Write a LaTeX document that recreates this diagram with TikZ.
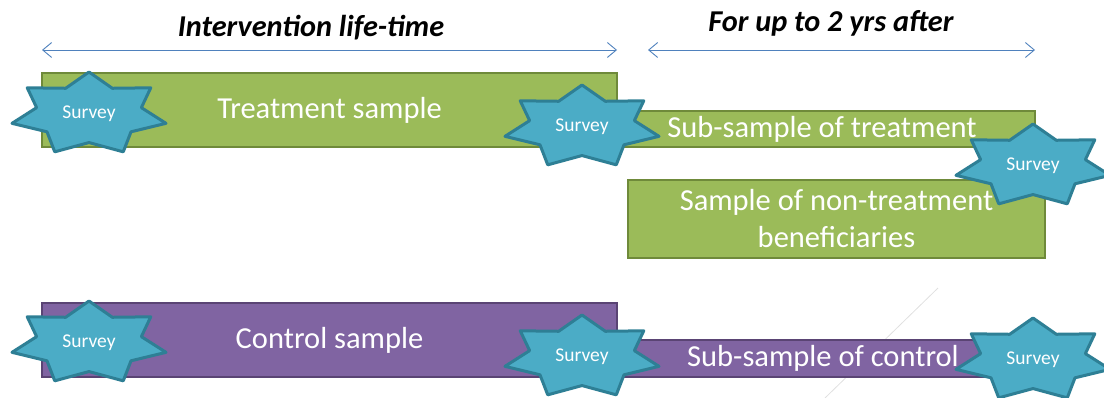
\documentclass[tikz,border=0pt]{standalone}
\usepackage{fontspec}
\setmainfont{Carlito}
\usetikzlibrary{arrows.meta}

\definecolor{greenfill}{HTML}{9BBB59}
\definecolor{greenline}{HTML}{6F8A3A}
\definecolor{purplefill}{HTML}{8064A2}
\definecolor{purpleline}{HTML}{5A4474}
\definecolor{starfill}{HTML}{4BACC6}
\definecolor{starline}{HTML}{2E7F95}
\definecolor{spanline}{HTML}{4F81BD}

\tikzset{
  greenbox/.style={draw=greenline, fill=greenfill, line width=2.6pt,
    text=white, font=\fontsize{30.5}{37}\selectfont, inner sep=0pt, align=center},
  purplebox/.style={draw=purpleline, fill=purplefill, line width=2.6pt,
    text=white, font=\fontsize{30.5}{37}\selectfont, inner sep=0pt, align=center},
  starshape/.style={draw=starline, fill=starfill, line width=3pt, line join=round},
  surveytext/.style={text=white, font=\fontsize{19.5}{21}\selectfont, inner sep=0pt},
  spanarrow/.style={draw=spanline, line width=0.9pt,
    {Straight Barb[length=9pt,width=15pt,line width=0.9pt]}-{Straight Barb[length=9pt,width=15pt,line width=0.9pt]}},
  heading/.style={font=\fontsize{30.3}{35}\selectfont\bfseries\itshape, inner sep=0pt},
  faintline/.style={draw=black!12, line width=0.8pt}
}

% seven-pointed star, stretched sideways, with its label
\newcommand\surveystar[3]{%
  \begin{scope}[shift={(#2,#3)}]
    \draw[starshape] (-90:79 and 42)
      \foreach \k [evaluate=\k as \r using {mod(\k,2)==1 ? 0.68 : 1}] in {1,...,13} {
        -- ({-90+\k*360/14}:{79*\r} and {42*\r})
      } -- cycle;
  \end{scope}
  \node[surveytext] (#1) at (#2,#3) {Survey};
}

\begin{document}
\begin{tikzpicture}[x=1pt, y=-1pt]
  \useasboundingbox (0,0) rectangle (1104,398);

  % headings and time spans
  \node[heading] (life) at (311,28) {Intervention life-time};
  \node[heading] (after) at (831,23) {For up to 2 yrs after};
  \coordinate (lifeL) at (42,50);
  \coordinate (lifeR) at (617,50);
  \coordinate (afterL) at (648,50);
  \coordinate (afterR) at (1035,50);
  \draw[spanarrow] (lifeL) -- (lifeR);
  \draw[spanarrow] (afterL) -- (afterR);

  % stray guide line
  \coordinate (g1) at (938,288);
  \coordinate (g2) at (825,398);
  \draw[faintline] (g1) -- (g2);

  % treatment arm
  \node[greenbox, minimum width=426pt, minimum height=36pt] (subtreat) at (822,129) {Sub-sample of treatment};
  \node[greenbox, minimum width=575pt, minimum height=74pt] (treat) at (329.5,110) {Treatment sample};
  \node[greenbox, minimum width=417pt, minimum height=78pt] (nontreat) at (836.5,219) {Sample of non-treatment\\beneficiaries};

  % control arm
  \node[purplebox, minimum width=428pt, minimum height=37pt] (subctrl) at (823,358.5) {Sub-sample of control};
  \node[purplebox, minimum width=575pt, minimum height=74pt] (ctrl) at (329.5,340) {Control sample};

  % survey rounds
  \surveystar{s1}{89}{114}
  \surveystar{s2}{582}{127}
  \surveystar{s3}{1033}{166}
  \surveystar{s4}{89}{343}
  \surveystar{s5}{582}{357}
  \surveystar{s6}{1033}{360}
\end{tikzpicture}
\end{document}
